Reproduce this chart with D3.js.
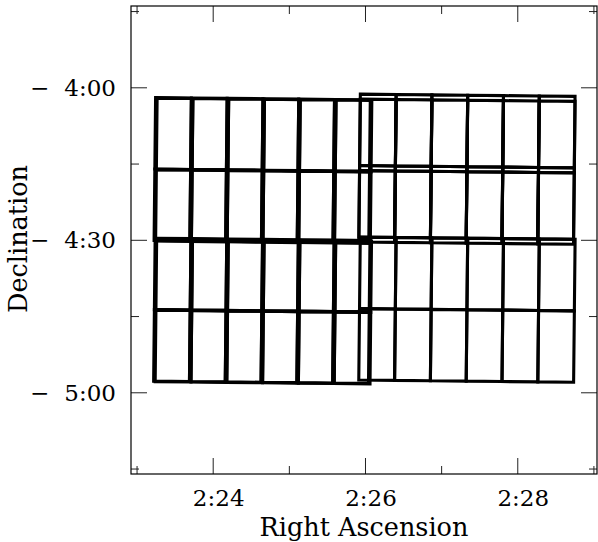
<!DOCTYPE html>
<html>
<head>
<meta charset="utf-8">
<script src="https://cdn.jsdelivr.net/npm/d3@7"></script>
<style>
  body { margin: 0; background: #fff; }
  text { font-family: 'DejaVu Serif', serif; fill: #000; }
</style>
</head>
<body>
<div id="chart"></div>
<script>
/* Global variables */
const width = 598;
const height = 542;

// Pointings of the 12-CCD camera (RA in minutes past 2h, Dec in degrees)
const pointingRA = [24.650, 24.670, 24.645, 24.665, 27.339, 27.339, 27.339];
const pointingDec = [-4.2718, -4.2735, -4.7327, -4.7344, -4.2603, -4.2767, -4.7292];
const rotationDeg = 0.6;

// CCD layout: 6 columns x 2 rows, size in arcmin
const ccdCols = 6;
const ccdRows = 2;
const ccdWidth = 7.03;
const ccdHeight = 14.06;

// Axes
const raMajorTicks = [24, 26, 28];
const raTickLabels = ['2:24', '2:26', '2:28'];
const raMinorTicks = [23, 25, 27, 29];
const decMajorTicks = [-4, -4.5, -5];
const decTickLabels = ['−4:00', '−4:30', '−5:00'];
const decMinorTicks = [-3.75, -4.25, -4.75, -5.25];

const x = d3.scaleLinear().domain([22.927, 29.047]).range([131, 597]);
const y = d3.scaleLinear().domain([-3.7334, -5.2679]).range([6, 474]);

const svg = d3
  .select('#chart')
  .append('svg')
  .attr('width', width)
  .attr('height', height);

// CCD outlines
const theta = (rotationDeg * Math.PI) / 180;

function ccdCorners(ra0, dec0, c, r) {
  const u0 = -(ccdCols * ccdWidth) / 2 + c * ccdWidth;
  const v0 = -(ccdRows * ccdHeight) / 2 + r * ccdHeight;
  const local = [
    [u0, v0],
    [u0 + ccdWidth, v0],
    [u0 + ccdWidth, v0 + ccdHeight],
    [u0, v0 + ccdHeight],
  ];
  const cosd = Math.cos((Math.abs(dec0) * Math.PI) / 180);
  return local.map(([u, v]) => {
    const ur = u * Math.cos(theta) - v * Math.sin(theta);
    const vr = u * Math.sin(theta) + v * Math.cos(theta);
    const ra = ra0 + ur / (15 * cosd);
    const dec = dec0 - vr / 60;
    return [x(ra), y(dec)];
  });
}

const ccds = [];
pointingRA.forEach((ra, i) => {
  for (let c = 0; c < ccdCols; c++) {
    for (let r = 0; r < ccdRows; r++) {
      ccds.push(ccdCorners(ra, pointingDec[i], c, r));
    }
  }
});

const line = d3.line().curve(d3.curveLinearClosed);

svg
  .append('g')
  .attr('class', 'ccds')
  .selectAll('path')
  .data(ccds)
  .join('path')
  .attr('d', line)
  .attr('fill', 'none')
  .attr('stroke', '#000')
  .attr('stroke-width', 3.1);

// Ticks (pointing inward, on all four sides)
function addAxis(axis, transform) {
  const g = svg.append('g').attr('transform', transform).call(axis);
  g.select('.domain').remove();
  g.selectAll('line').attr('stroke', '#222').attr('stroke-width', 1);
  return g;
}

const bottomMajor = addAxis(
  d3
    .axisBottom(x)
    .tickValues(raMajorTicks)
    .tickSize(-16)
    .tickPadding(16)
    .tickFormat((d, i) => raTickLabels[i]),
  `translate(0, 474)`
);
bottomMajor
  .selectAll('text')
  .attr('dx', 5.5)
  .style('font-size', '23px')
  .style('font-family', "'DejaVu Serif', serif");

addAxis(d3.axisBottom(x).tickValues(raMinorTicks).tickSize(-8).tickFormat(''), `translate(0, 474)`);
addAxis(d3.axisTop(x).tickValues(raMajorTicks).tickSize(-16).tickFormat(''), `translate(0, 6)`);
addAxis(d3.axisTop(x).tickValues(raMinorTicks).tickSize(-8).tickFormat(''), `translate(0, 6)`);

const leftMajor = addAxis(
  d3.axisLeft(y).tickValues(decMajorTicks).tickSize(-16).tickFormat(''),
  `translate(131, 0)`
);
leftMajor
  .selectAll('.tick')
  .append('text')
  .attr('x', -15)
  .attr('dy', '0.35em')
  .attr('text-anchor', 'end')
  .style('font-size', '23px')
  .style('font-family', "'DejaVu Serif', serif")
  .attr('fill', '#000')
  .each(function (d, i) {
    const t = d3.select(this);
    t.append('tspan').text(decTickLabels[i].slice(0, 1));
    t.append('tspan').attr('dx', 15).text(decTickLabels[i].slice(1));
  });

addAxis(d3.axisLeft(y).tickValues(decMinorTicks).tickSize(-8).tickFormat(''), `translate(131, 0)`);
addAxis(d3.axisRight(y).tickValues(decMajorTicks).tickSize(-16).tickFormat(''), `translate(597, 0)`);
addAxis(d3.axisRight(y).tickValues(decMinorTicks).tickSize(-8).tickFormat(''), `translate(597, 0)`);

// Frame
svg
  .append('rect')
  .attr('x', 131)
  .attr('y', 6)
  .attr('width', 597 - 131)
  .attr('height', 474 - 6)
  .attr('fill', 'none')
  .attr('stroke', '#000')
  .attr('stroke-width', 1.2);

// Axis titles
svg
  .append('text')
  .attr('x', 364)
  .attr('y', 536)
  .attr('text-anchor', 'middle')
  .style('font-size', '25.5px')
  .text('Right Ascension');

svg
  .append('text')
  .attr('transform', 'translate(27, 239) rotate(-90)')
  .attr('text-anchor', 'middle')
  .style('font-size', '25.5px')
  .text('Declination');
</script>
</body>
</html>
